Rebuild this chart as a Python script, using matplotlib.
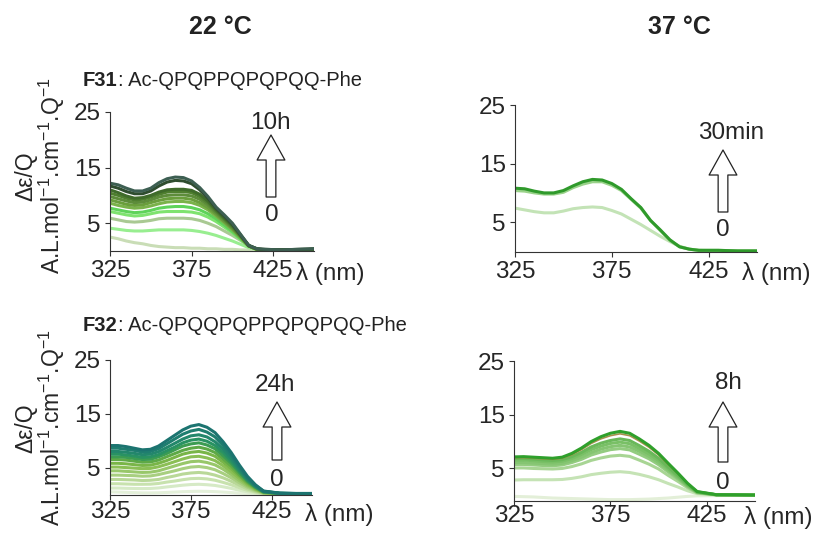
import matplotlib.pyplot as plt
from matplotlib.patches import FancyArrowPatch, ArrowStyle

plt.rcParams['font.family'] = 'Liberation Sans'
plt.rcParams['mathtext.fontset'] = 'custom'
plt.rcParams['mathtext.rm'] = 'Liberation Sans'
plt.rcParams['mathtext.it'] = 'Liberation Sans:italic'
plt.rcParams['mathtext.bf'] = 'Liberation Sans:bold'
plt.rcParams['text.color'] = '#222222'

W, H = 816, 533

# wavelength grid (nm)
wl = [325, 330, 335, 340, 345, 350, 355, 360, 365, 370, 375, 380,
      385, 390, 395, 400, 405, 410, 415, 420, 430, 440, 450]

# F31 at 22 C, 0 -> 10h (light -> dark)
f31_22 = [
    [2.5, 2.2, 1.8, 1.5, 1.3, 1.0, 0.8, 0.7, 0.6, 0.6, 0.5, 0.5, 0.4, 0.4, 0.3, 0.3, 0.2, 0.2, 0.1, 0.1, 0.1, 0.1, 0.1],
    [4.1, 3.9, 3.7, 3.6, 3.6, 3.7, 3.8, 3.8, 3.8, 3.8, 3.7, 3.5, 3.2, 2.8, 2.3, 1.8, 1.2, 0.6, 0.3, 0.1, 0.1, 0.1, 0.1],
    [5.9, 5.6, 5.3, 5.2, 5.3, 5.5, 5.8, 5.9, 5.9, 5.9, 5.8, 5.5, 5.0, 4.4, 3.6, 2.8, 1.9, 0.9, 0.3, 0.1, 0.1, 0.1, 0.2],
    [7.1, 6.8, 6.5, 6.3, 6.4, 6.7, 7.0, 7.1, 7.1, 7.1, 7.0, 6.7, 6.1, 5.3, 4.3, 3.3, 2.1, 0.9, 0.3, 0.2, 0.1, 0.1, 0.2],
    [7.7, 7.4, 7.1, 6.9, 7.0, 7.3, 7.7, 7.9, 8.0, 8.0, 7.8, 7.4, 6.7, 5.8, 4.7, 3.5, 2.2, 0.9, 0.3, 0.2, 0.1, 0.2, 0.2],
    [8.6, 8.2, 7.9, 7.7, 7.8, 8.1, 8.5, 8.8, 8.9, 8.9, 8.7, 8.2, 7.4, 6.3, 5.1, 3.8, 2.4, 0.9, 0.3, 0.2, 0.1, 0.2, 0.2],
    [9.2, 8.8, 8.4, 8.2, 8.3, 8.7, 9.1, 9.4, 9.5, 9.5, 9.3, 8.7, 7.8, 6.6, 5.3, 4.0, 2.5, 0.9, 0.3, 0.2, 0.1, 0.2, 0.2],
    [9.8, 9.4, 9.0, 8.7, 8.8, 9.2, 9.7, 10.0, 10.1, 10.1, 9.9, 9.3, 8.3, 6.9, 5.6, 4.2, 2.6, 0.9, 0.3, 0.2, 0.1, 0.2, 0.3],
    [10.4, 10.0, 9.5, 9.2, 9.3, 9.7, 10.2, 10.6, 10.7, 10.7, 10.5, 9.8, 8.7, 7.2, 5.8, 4.4, 2.7, 0.9, 0.3, 0.2, 0.2, 0.2, 0.3],
    [11.0, 10.5, 9.9, 9.5, 9.6, 10.0, 10.6, 11.0, 11.1, 11.1, 10.9, 10.2, 9.0, 7.4, 6.0, 4.6, 2.8, 1.0, 0.4, 0.2, 0.2, 0.2, 0.3],
    [11.7, 11.3, 10.7, 10.3, 10.3, 10.8, 11.7, 12.4, 12.7, 12.6, 12.1, 11.0, 9.5, 7.7, 6.3, 4.8, 2.9, 1.0, 0.4, 0.3, 0.2, 0.3, 0.4],
    [12.2, 11.9, 11.3, 10.8, 10.8, 11.3, 12.3, 13.0, 13.3, 13.2, 12.6, 11.4, 9.8, 7.9, 6.5, 5.0, 3.0, 1.0, 0.4, 0.3, 0.2, 0.3, 0.4],
]
f31_22_colors = ['#c9ddb6', '#98ee90', '#a9c993', '#7fe36f', '#5fd35a', '#7ab24a',
                 '#6a9e3c', '#5d8c3a', '#4f7f2f', '#3f6b2a', '#2f4d2f', '#3d5f52']

# F31 at 37 C, 0 -> 30min
f31_37 = [
    [7.4, 7.1, 6.8, 6.6, 6.6, 6.9, 7.3, 7.5, 7.6, 7.5, 7.0, 6.4, 5.5, 4.6, 3.6, 2.6, 1.7, 0.9, 0.4, 0.2, 0.1, 0.1, 0.1],
    [10.4, 10.3, 10.0, 9.8, 9.8, 10.1, 10.9, 11.5, 11.9, 11.9, 11.3, 10.4, 8.9, 7.4, 5.3, 3.6, 1.9, 0.8, 0.4, 0.2, 0.2, 0.1, 0.1],
    [10.8, 10.7, 10.3, 10.0, 10.0, 10.4, 11.2, 11.9, 12.3, 12.2, 11.6, 10.6, 9.0, 7.5, 5.3, 3.7, 2.0, 0.8, 0.4, 0.2, 0.2, 0.1, 0.1],
]
f31_37_colors = ['#c3e3b6', '#9ad28a', '#2f9a2b']

# F32 at 22 C, 0 -> 24h
f32_22 = [
    [0.5, 0.45, 0.4, 0.35, 0.3, 0.3, 0.32, 0.38, 0.45, 0.52, 0.57, 0.6, 0.58, 0.53, 0.45, 0.36, 0.25, 0.16, 0.08, 0.03, 0.01, 0.01, 0.01],
    [1.2, 1.2, 1.15, 1.12, 1.1, 1.12, 1.22, 1.4, 1.56, 1.73, 1.85, 1.9, 1.82, 1.68, 1.43, 1.14, 0.8, 0.5, 0.27, 0.1, 0.04, 0.03, 0.03],
    [2.0, 2.0, 1.95, 1.9, 1.9, 1.92, 2.05, 2.3, 2.5, 2.75, 2.95, 3.0, 2.9, 2.65, 2.25, 1.8, 1.27, 0.78, 0.42, 0.15, 0.06, 0.05, 0.05],
    [2.8, 2.8, 2.75, 2.7, 2.6, 2.65, 2.8, 3.15, 3.45, 3.8, 4.0, 4.1, 3.95, 3.6, 3.1, 2.45, 1.75, 1.05, 0.57, 0.2, 0.08, 0.06, 0.06],
    [3.6, 3.6, 3.55, 3.5, 3.4, 3.45, 3.7, 4.05, 4.4, 4.8, 5.1, 5.2, 5.0, 4.6, 3.9, 3.1, 2.2, 1.35, 0.73, 0.26, 0.1, 0.08, 0.08],
    [4.4, 4.4, 4.3, 4.2, 4.1, 4.15, 4.4, 4.85, 5.3, 5.75, 6.1, 6.2, 5.95, 5.5, 4.7, 3.7, 2.6, 1.6, 0.87, 0.3, 0.12, 0.1, 0.1],
    [5.1, 5.1, 5.0, 4.9, 4.8, 4.85, 5.15, 5.6, 6.1, 6.6, 7.0, 7.1, 6.8, 6.3, 5.35, 4.25, 3.0, 1.85, 1.0, 0.35, 0.14, 0.1, 0.1],
    [5.8, 5.8, 5.7, 5.55, 5.4, 5.45, 5.8, 6.3, 6.9, 7.5, 7.85, 8.0, 7.7, 7.1, 6.0, 4.8, 3.4, 2.1, 1.1, 0.4, 0.16, 0.12, 0.12],
    [6.5, 6.5, 6.4, 6.2, 6.0, 6.05, 6.4, 7.0, 7.6, 8.2, 8.6, 8.8, 8.45, 7.8, 6.6, 5.3, 3.7, 2.3, 1.25, 0.45, 0.18, 0.13, 0.13],
    [7.0, 7.0, 6.9, 6.7, 6.5, 6.55, 7.0, 7.6, 8.3, 9.0, 9.4, 9.6, 9.2, 8.5, 7.2, 5.8, 4.1, 2.5, 1.35, 0.5, 0.2, 0.15, 0.15],
    [7.5, 7.5, 7.35, 7.15, 6.9, 7.0, 7.4, 8.1, 8.8, 9.6, 10.1, 10.3, 9.9, 9.1, 7.8, 6.2, 4.4, 2.7, 1.45, 0.5, 0.2, 0.15, 0.15],
    [8.0, 8.0, 7.85, 7.65, 7.4, 7.5, 7.95, 8.7, 9.5, 10.3, 10.9, 11.1, 10.7, 9.8, 8.4, 6.7, 4.7, 2.9, 1.55, 0.55, 0.22, 0.17, 0.17],
    [8.6, 8.6, 8.4, 8.2, 7.9, 8.0, 8.5, 9.4, 10.3, 11.2, 11.8, 12.1, 11.6, 10.7, 9.1, 7.3, 5.1, 3.1, 1.7, 0.6, 0.24, 0.18, 0.18],
    [9.1, 9.1, 8.9, 8.6, 8.3, 8.4, 9.0, 10.0, 11.0, 12.0, 12.7, 13.0, 12.5, 11.5, 9.8, 7.8, 5.5, 3.4, 1.8, 0.65, 0.26, 0.2, 0.2],
]
f32_22_colors = ['#e4f0da', '#d6eac6', '#c8e2ae', '#b9d898', '#a8cf80', '#98c76a', '#8bbf55',
                 '#79b548', '#5ea946', '#3c9c52', '#299262', '#23876b', '#1f7e6f', '#1c7470']

# F32 at 37 C, 0 -> 8h
f32_37 = [
    [-0.2, -0.25, -0.3, -0.4, -0.5, -0.55, -0.6, -0.65, -0.7, -0.75, -0.8, -0.8, -0.8, -0.75, -0.7, -0.6, -0.5, -0.35, -0.2, -0.1, -0.05, 0.0, 0.0],
    [2.85, 2.9, 2.9, 2.9, 2.9, 2.95, 3.15, 3.45, 3.85, 4.1, 4.3, 4.4, 4.25, 3.9, 3.45, 2.9, 2.2, 1.55, 0.85, 0.3, 0.05, 0.04, 0.03],
    [5.1, 5.1, 5.0, 4.95, 4.9, 5.0, 5.35, 5.85, 6.5, 6.95, 7.3, 7.45, 7.25, 6.55, 5.8, 4.9, 3.7, 2.6, 1.4, 0.45, 0.08, 0.06, 0.04],
    [5.75, 5.75, 5.65, 5.55, 5.5, 5.65, 6.1, 6.7, 7.5, 8.05, 8.5, 8.7, 8.45, 7.65, 6.8, 5.7, 4.35, 3.05, 1.65, 0.5, 0.1, 0.07, 0.05],
    [6.1, 6.1, 6.0, 5.9, 5.8, 5.95, 6.45, 7.1, 7.95, 8.6, 9.05, 9.3, 9.0, 8.2, 7.25, 6.1, 4.65, 3.25, 1.75, 0.55, 0.1, 0.07, 0.05],
    [6.55, 6.55, 6.45, 6.3, 6.2, 6.35, 6.85, 7.6, 8.5, 9.15, 9.65, 9.9, 9.6, 8.7, 7.7, 6.5, 4.95, 3.45, 1.9, 0.6, 0.1, 0.08, 0.05],
    [6.85, 6.85, 6.75, 6.6, 6.5, 6.65, 7.2, 8.0, 9.0, 9.7, 10.2, 10.5, 10.2, 9.25, 8.2, 6.9, 5.25, 3.7, 2.0, 0.65, 0.1, 0.08, 0.05],
    [7.0, 7.0, 6.9, 6.8, 6.7, 6.9, 7.55, 8.5, 9.65, 10.5, 11.1, 11.45, 11.1, 10.1, 8.95, 7.5, 5.7, 4.0, 2.2, 0.7, 0.12, 0.1, 0.05],
    [7.15, 7.2, 7.1, 7.0, 6.9, 7.1, 7.8, 8.8, 10.0, 10.9, 11.55, 11.9, 11.55, 10.5, 9.3, 7.8, 5.95, 4.15, 2.25, 0.7, 0.12, 0.1, 0.05],
]
f32_37_colors = ['#e3efd8', '#c5e3b5', '#a8d594', '#93cc80', '#85c572', '#79c066',
                 '#6ab85a', '#a8904c', '#2fa02b']

yticks = [5, 15, 25]
xticks = [325, 375, 425]


def fx(px):
    return px / W


def fy(py):
    return 1 - py / H


fig = plt.figure(figsize=(W / 100, H / 100), dpi=100)


def make_panel(left, right, ybot, ytop, ymin, curves, colors, pad, lam_xy,
               top_lbl, lbl_xy, arrow_x, arrow_y, zero_xy):
    ax = fig.add_axes([fx(left), fy(ybot), (right - left) / W, (ybot - ytop) / H])
    for vals, c in zip(curves, colors):
        lw = 1.2 if c == '#a8904c' else 2.2
        ax.plot(wl, vals, color=c, lw=lw, solid_capstyle='round')
    ax.set_xlim(325, 450)
    ax.set_ylim(ymin, 25)
    ax.set_xticks(xticks)
    ax.set_yticks(yticks)
    for s in ['top', 'right']:
        ax.spines[s].set_visible(False)
    for s in ['left', 'bottom']:
        ax.spines[s].set_color('#333333')
        ax.spines[s].set_linewidth(0.8)
    ax.tick_params(direction='out', length=3.5, width=0.8, color='#333333',
                   labelsize=17.5, labelcolor='#262626', pad=3)
    ax.tick_params(axis='x', pad=pad)
    fig.text(fx(lam_xy[0]), fy(lam_xy[1]), u'\u03bb (nm)', fontsize=17.5, color='#262626',
             ha='left', va='top')
    # time arrow
    fig.text(fx(lbl_xy[0]), fy(lbl_xy[1]), top_lbl, fontsize=17.5, color='#262626',
             ha='center', va='center')
    fig.text(fx(zero_xy[0]), fy(zero_xy[1]), '0', fontsize=17.5, color='#262626',
             ha='center', va='center')
    arr = FancyArrowPatch((fx(arrow_x), fy(arrow_y[0])), (fx(arrow_x), fy(arrow_y[1])),
                          transform=fig.transFigure,
                          arrowstyle=ArrowStyle('Simple', head_length=18, head_width=20, tail_width=7),
                          mutation_scale=1, shrinkA=0, shrinkB=0,
                          fc='white', ec='#222222', lw=0.9)
    fig.add_artist(arr)
    return ax


make_panel(110, 314, 251, 112, 0, f31_22, f31_22_colors, 3, (296, 262),
           '10h', (270, 123), 271, (197, 135), (272, 215))
make_panel(515, 757, 251.5, 105, 0, f31_37, f31_37_colors, 3, (742, 262),
           '30min', (731, 133), 723, (212, 150), (723, 230))
make_panel(110, 312, 494.5, 360, 0, f32_22, f32_22_colors, 1.5, (305, 503),
           '24h', (275, 385), 277, (460, 402), (277, 480))
make_panel(514, 755, 500.7, 361, -1, f32_37, f32_37_colors, -0.5, (744, 506),
           '8h', (728, 383), 723, (462, 402), (723, 483))

# column titles
fig.text(fx(220), fy(27), u'22 \u00b0C', fontsize=18, fontweight='bold', ha='center', va='center')
fig.text(fx(679), fy(27), u'37 \u00b0C', fontsize=18, fontweight='bold', ha='center', va='center')

# peptide names
t1 = fig.text(fx(83), fy(86), 'F31', fontsize=14.5, fontweight='bold', ha='left', va='baseline')
fig.axes[0].annotate(': Ac-QPQPPQPQPQQ-Phe', xy=(1, 0), xycoords=t1, fontsize=14.5,
                     ha='left', va='bottom', annotation_clip=False)
t2 = fig.text(fx(83), fy(331), 'F32', fontsize=14.5, fontweight='bold', ha='left', va='baseline')
fig.axes[2].annotate(': Ac-QPQQPQPPQPQPQQ-Phe', xy=(1, 0), xycoords=t2, fontsize=14.5,
                     ha='left', va='bottom', annotation_clip=False)

# y labels
ylab1 = u'\u0394\u03b5/Q'
ylab2 = r'A.L.mol$^{-1}$.cm$^{-1}$.Q$^{-1}$'
for yc in [176, 428]:
    fig.text(fx(26), fy(yc), ylab1, fontsize=16.5, color='#262626', rotation=90, ha='center', va='center')
    fig.text(fx(52), fy(yc), ylab2, fontsize=16.5, color='#262626', rotation=90, ha='center', va='center')

fig.savefig('out.png', dpi=100)
